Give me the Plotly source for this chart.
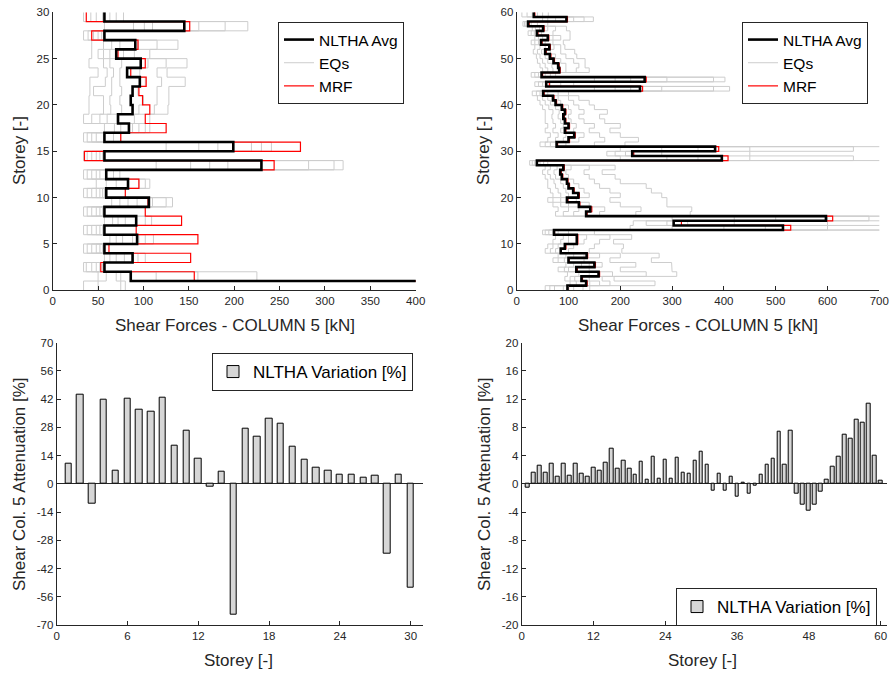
import plotly.graph_objects as go

W, H = 891, 674
FONT = "Liberation Sans, Arial, Helvetica, sans-serif"
AX = "#262626"

# ---------------- Top-left: 30-storey shear profile ----------------
avg30 = [450, 86, 57, 88, 57, 93, 57, 92, 57, 106, 59, 83, 59, 230, 57, 199, 57, 84, 72, 88,
         86, 88, 96, 82, 97, 70, 91, 57, 145, 57]
mrf30 = [450, 156, 53, 152, 62, 160, 92, 142, 102, 105, 80, 95, 59, 244, 35, 273, 75, 125, 102, 107,
         99, 95, 103, 86, 102, 72, 94, 43, 151, 37]
eq30_1 = [34, 50, 34, 57, 34, 63, 34, 57, 34, 65, 34, 48, 34, 114, 34, 125, 34, 57, 34, 40, 40, 41, 41, 50, 40, 43, 43, 34, 57, 34]
eq30_2 = [50, 59, 37, 63, 38, 70, 38, 66, 38, 74, 38, 59, 38, 152, 38, 161, 38, 68, 43, 56, 56, 45, 58, 60, 56, 50, 56, 39, 89, 42]
eq30_3 = [75, 70, 43, 70, 43, 77, 43, 72, 43, 83, 43, 70, 43, 173, 43, 182, 43, 75, 52, 64, 63, 65, 65, 67, 63, 56, 65, 45, 101, 48]
eq30_4 = [80, 75, 48, 79, 48, 88, 48, 80, 48, 93, 48, 83, 48, 193, 48, 199, 48, 88, 60, 76, 74, 76, 74, 74, 76, 63, 74, 50, 110, 55]
eq30_5 = [500, 114, 52, 89, 52, 95, 52, 92, 52, 110, 52, 95, 52, 282, 52, 219, 57, 95, 71, 95, 100, 94, 102, 96, 105, 78, 94, 54, 161, 63]
eq30_6 = [700, 160, 55, 94, 55, 102, 55, 102, 55, 125, 55, 102, 67, 310, 55, 230, 67, 102, 90, 112, 115, 115, 120, 115, 125, 90, 115, 56, 190, 70]
eq30_7 = [900, 225, 58, 102, 57, 111, 57, 109, 57, 132, 57, 107, 74, 320, 57, 241, 75, 107, 107, 127, 128, 128, 146, 126, 148, 107, 138, 57, 215, 78]

# ---------------- Top-right: 60-storey shear profile ----------------
avg60 = [98, 134, 125, 158, 115, 150, 100, 135, 85, 93, 116, 116, 72, 514, 303, 597, 134, 142, 120, 97,
         119, 109, 100, 97, 87, 84, 90, 39, 396, 223, 383, 77, 100, 111, 93, 100, 93, 90, 93, 87,
         75, 70, 51, 238, 57, 247, 48, 82, 80, 71, 64, 55, 63, 47, 60, 39, 51, 22, 96, 33]
mrf60 = [100, 136, 127, 160, 117, 152, 101, 137, 86, 95, 118, 118, 73, 529, 318, 610, 136, 145, 122, 99,
         121, 111, 102, 99, 89, 86, 92, 40, 408, 226, 390, 79, 102, 113, 95, 102, 95, 92, 95, 89,
         77, 72, 53, 243, 63, 250, 50, 84, 82, 73, 66, 57, 65, 49, 62, 41, 53, 24, 98, 35]
eq60_1 = [55, 103, 93, 98, 80, 95, 70, 80, 55, 60, 70, 75, 50, 219, 225, 300, 75, 80, 70, 60,
          70, 65, 60, 60, 55, 50, 55, 25, 200, 174, 200, 45, 60, 65, 55, 60, 55, 55, 55, 50,
          45, 40, 30, 150, 35, 150, 28, 50, 45, 40, 38, 32, 35, 28, 35, 22, 30, 12, 50, 10]
eq60_2 = [64, 115, 103, 120, 92, 110, 80, 95, 65, 70, 85, 90, 55, 300, 250, 420, 90, 100, 85, 70,
          85, 80, 75, 72, 65, 60, 65, 30, 290, 190, 280, 55, 75, 80, 70, 75, 70, 68, 70, 62,
          55, 50, 38, 190, 42, 190, 35, 60, 55, 50, 45, 40, 45, 35, 42, 28, 36, 15, 60, 20]
eq60_3 = [73, 134, 112, 140, 100, 125, 92, 110, 75, 80, 100, 100, 62, 400, 290, 500, 110, 120, 100, 85,
          100, 95, 90, 85, 75, 72, 78, 35, 350, 210, 350, 65, 90, 95, 85, 90, 85, 80, 82, 75,
          65, 60, 45, 220, 50, 220, 42, 70, 68, 60, 55, 48, 55, 42, 50, 34, 44, 18, 75, 30]
eq60_4 = [90, 141, 125, 160, 115, 140, 100, 130, 85, 92, 115, 116, 70, 480, 330, 600, 134, 142, 120, 97,
          119, 109, 100, 97, 87, 84, 90, 39, 396, 223, 383, 77, 100, 111, 93, 100, 93, 90, 93, 87,
          75, 70, 51, 238, 57, 247, 48, 82, 80, 71, 64, 55, 63, 47, 60, 39, 51, 22, 96, 33]
eq60_5 = [110, 160, 140, 185, 140, 165, 130, 160, 100, 110, 130, 135, 80, 600, 420, 680, 160, 170, 140, 115,
          140, 130, 120, 110, 100, 95, 105, 45, 450, 280, 450, 95, 120, 130, 110, 115, 105, 100, 105, 100,
          85, 80, 60, 280, 65, 290, 55, 95, 95, 85, 75, 65, 72, 55, 70, 48, 60, 28, 110, 40]
eq60_6 = [128, 180, 165, 250, 200, 230, 180, 200, 140, 150, 160, 180, 100, 750, 600, 800, 230, 240, 200, 180,
          200, 180, 160, 150, 140, 130, 140, 52, 650, 450, 650, 150, 170, 160, 140, 150, 130, 120, 130, 120,
          110, 100, 80, 380, 85, 380, 65, 115, 120, 110, 95, 85, 85, 70, 85, 70, 75, 40, 130, 50]
eq60_7 = [141, 267, 188, 309, 300, 299, 260, 275, 203, 206, 187, 222, 150, 900, 850, 1000, 335, 338, 290, 290,
          280, 260, 250, 200, 190, 165, 190, 60, 900, 800, 900, 209, 235, 200, 180, 200, 170, 160, 175, 150,
          140, 120, 100, 411, 110, 402, 75, 140, 132, 132, 116, 112, 93, 90, 103, 103, 96, 60, 148, 61]

# ---------------- Bottom: attenuation bars ----------------
storeys30 = list(range(1, 31))
storeys60 = list(range(1, 61))
var30 = [9.9, 44, -9.6, 41.8, 6.6, 42.3, 36.9, 35.7, 42.5, 18.8, 26.3, 12.7, -1.65, 6.1, -65,
         27.3, 23.3, 32.4, 29.75, 18.3, 12.2, 7.8, 6.3, 4.5, 4.6, 3.0, 3.8, -34.4, 4.6, -51.7]
var60 = [-0.5, 1.65, 2.6, 1.6, 2.9, 0.95, 2.8, 1.1, 2.8, 1.4, 1.05, 2.25, 1.85, 3.0, 5.05, 2.2, 3.35, 2.2, 1.3, 3.1,
         0.6, 3.8, 0.7, 3.4, 0.75, 3.65, 1.65, 1.5, 3.35, 4.5, 2.65, -1.0, 1.5, -0.9, 0.95, -1.85, 0.2, -1.45, -0.2, 1.25,
         2.65, 3.5, 7.4, 2.65, 7.5, -1.45, -3.0, -3.8, -2.9, -1.1, 0.55, 2.5, 3.8, 6.95, 6.45, 9.15, 8.6, 11.3, 4.0, 0.4]

# tick labels
tl_x_tl = [0, 50, 100, 150, 200, 250, 300, 350, 400]
tl_y_tl = [0, 5, 10, 15, 20, 25, 30]
tl_x_tr = [0, 100, 200, 300, 400, 500, 600, 700]
tl_y_tr = [0, 10, 20, 30, 40, 50, 60]
tl_x_bl = [0, 6, 12, 18, 24, 30]
tl_y_bl = [-70, -56, -42, -28, -14, 0, 14, 28, 42, 56, 70]
tl_x_br = [0, 12, 24, 36, 48, 60]
tl_y_br = [-20, -16, -12, -8, -4, 0, 4, 8, 12, 16, 20]


def stairs(vals):
    xs, ys = [], []
    for i, v in enumerate(vals):
        xs += [v, v]
        ys += [i, i + 1]
    return xs, ys


fig = go.Figure()

GRAY = "#cdcdcd"


def add_profile(eqs, mrf, avg, xa, ya, leg):
    for k, e in enumerate(eqs):
        x, y = stairs(e)
        fig.add_trace(go.Scatter(x=x, y=y, mode="lines", line=dict(color=GRAY, width=1),
                                 name="EQs", legendgroup=leg + "eq", showlegend=(k == 0),
                                 legendrank=2, xaxis=xa, yaxis=ya, legend=leg, hoverinfo="skip"))
    x, y = stairs(mrf)
    fig.add_trace(go.Scatter(x=x, y=y, mode="lines", line=dict(color="#ff0000", width=1.2),
                             name="MRF", legendrank=3, xaxis=xa, yaxis=ya, legend=leg))
    x, y = stairs(avg)
    fig.add_trace(go.Scatter(x=x, y=y, mode="lines", line=dict(color="#000000", width=2.6),
                             name="NLTHA Avg", legendrank=1, xaxis=xa, yaxis=ya, legend=leg))


add_profile([eq30_1, eq30_2, eq30_3, eq30_4, eq30_5, eq30_6, eq30_7], mrf30, avg30, "x", "y", "legend")
add_profile([eq60_1, eq60_2, eq60_3, eq60_4, eq60_5, eq60_6, eq60_7], mrf60, avg60, "x2", "y2", "legend2")

fig.add_trace(go.Bar(x=storeys30, y=var30, width=0.55, marker=dict(color="#d6d6d6", line=dict(color="#000000", width=1)),
                     name="NLTHA Variation [%]", xaxis="x3", yaxis="y3", legend="legend3"))
fig.add_trace(go.Bar(x=storeys60, y=var60, width=0.6, marker=dict(color="#d6d6d6", line=dict(color="#000000", width=1)),
                     name="NLTHA Variation [%]", xaxis="x4", yaxis="y4", legend="legend4"))


def px(x):
    return x / W


def py(y):
    return 1 - y / H


def axis(dom, anchor, rng, tv, **kw):
    d = dict(domain=dom, anchor=anchor, range=rng, tickvals=tv, ticktext=[str(v) for v in tv],
             showline=True, linecolor=AX, linewidth=1, ticks="inside", ticklen=4, tickcolor=AX,
             tickfont=dict(family=FONT, size=11.5, color=AX), showgrid=False, zeroline=False,
             mirror=False, automargin=False, fixedrange=True)
    d.update(kw)
    return d


top_y = [py(290.3), py(12.3)]
bot_y = [py(625.0), py(342.7)]

fig.update_layout(
    width=W, height=H, margin=dict(l=0, r=0, t=0, b=0),
    paper_bgcolor="white", plot_bgcolor="white", template=None,
    font=dict(family=FONT, color=AX), bargap=0,
    xaxis=axis([px(52.7), px(415.7)], "y", [0, 400], tl_x_tl),
    yaxis=axis(top_y, "x", [0, 30], tl_y_tl),
    xaxis2=axis([px(516.7), px(879.3)], "y2", [0, 700], tl_x_tr),
    yaxis2=axis(top_y, "x2", [0, 60], tl_y_tr),
    xaxis3=axis([px(56.7), px(422.5)], "y3", [0, 31], tl_x_bl),
    yaxis3=axis(bot_y, "x3", [-70, 70], tl_y_bl, zeroline=True, zerolinecolor=AX, zerolinewidth=1),
    xaxis4=axis([px(521.7), px(886.7)], "y4", [0, 61], tl_x_br),
    yaxis4=axis(bot_y, "x4", [-20, 20], tl_y_br, zeroline=True, zerolinecolor=AX, zerolinewidth=1),
    showlegend=True,
)

leg_top = dict(bgcolor="white", bordercolor=AX, borderwidth=1,
               font=dict(family=FONT, size=15.5, color="#000000"), xanchor="right", yanchor="top",
               tracegroupgap=0, itemwidth=30)
leg_bot = dict(bgcolor="white", bordercolor=AX, borderwidth=1,
               font=dict(family=FONT, size=17, color="#000000"), xanchor="right", yanchor="top",
               tracegroupgap=0, itemwidth=30)
fig.update_layout(
    legend=dict(x=px(404), y=py(22), **leg_top),
    legend2=dict(x=px(868), y=py(22), **leg_top),
    legend3=dict(x=px(413), y=py(353), **leg_bot),
    legend4=dict(x=px(877), y=py(588), **leg_bot),
)

titles = [
    ("Storey [-]", 19, 151, -90),
    ("Shear Forces - COLUMN 5 [kN]", 235, 325, 0),
    ("Storey [-]", 483, 151, -90),
    ("Shear Forces - COLUMN 5 [kN]", 698, 325, 0),
    ("Shear Col. 5 Attenuation [%]", 19, 484, -90),
    ("Storey [-]", 238, 660, 0),
    ("Shear Col. 5 Attenuation [%]", 484, 484, -90),
    ("Storey [-]", 702, 660, 0),
]
for text, x, y, ang in titles:
    fig.add_annotation(text=text, x=px(x), y=py(y), xref="paper", yref="paper", showarrow=False,
                       textangle=ang, xanchor="center", yanchor="middle",
                       font=dict(family=FONT, size=17, color=AX))

fig.write_html("out.html", config={"displayModeBar": False},
               post_script="document.body.style.margin='0px';document.body.style.padding='0px';document.body.style.overflow='hidden';")
